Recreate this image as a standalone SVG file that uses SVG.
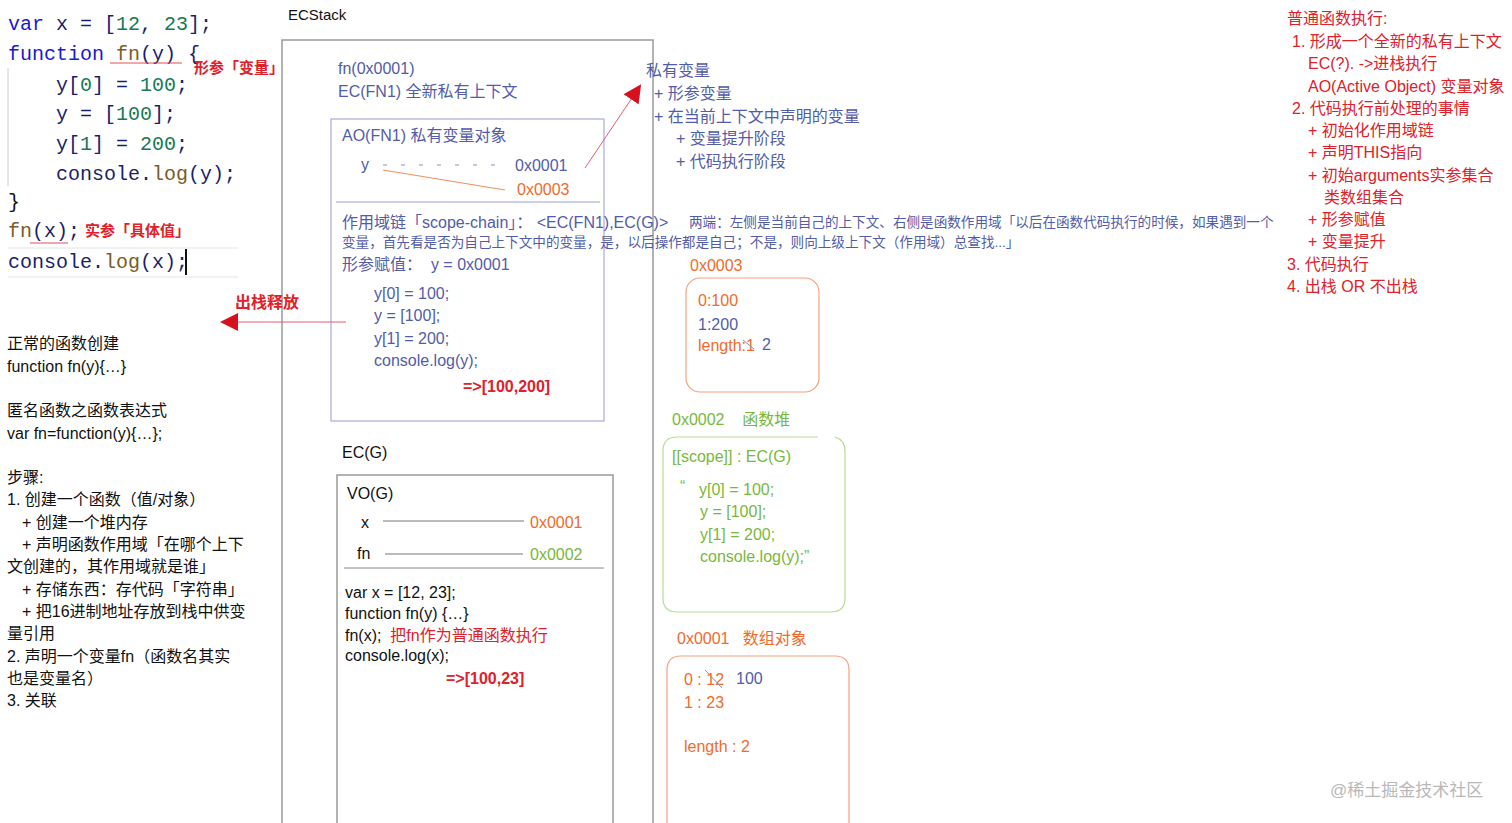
<svg xmlns="http://www.w3.org/2000/svg" width="1512" height="823" viewBox="0 0 1512 823">
<style>
text{font-family:"Liberation Sans","Noto Sans CJK SC",sans-serif;white-space:pre;}
.code{font-family:"Liberation Mono","DejaVu Sans Mono",monospace;font-size:20px;fill:#1b1f6b;}
.kw{fill:#1a1ad0;}
.num{fill:#137a55;}
.fnc{fill:#7a5d28;}
.pun{fill:#111;}
.red{fill:#e0202a;}
.blu{fill:#525ca8;font-size:16px;}
.blk{fill:#111;font-size:16px;}
.org{fill:#f26a2a;font-size:16px;}
.grn{fill:#78b83c;font-size:16px;}
.rt{fill:#e0202a;font-size:16px;}
.sm{font-size:13.6px;}
.box{fill:none;stroke:#9a9a9a;stroke-width:1.5;}
</style>
<defs>
<marker id="ah" markerWidth="18" markerHeight="18" refX="16" refY="9" orient="auto" markerUnits="userSpaceOnUse" viewBox="0 0 18 18">
<path d="M0,0 L18,9 L0,18 z" fill="#d8101e"/>
</marker>
</defs>
<rect width="1512" height="823" fill="#fff"/>

<g id="code">
<line x1="8" y1="68" x2="8" y2="186" stroke="#ccc" stroke-width="1"/>
<line x1="8" y1="248" x2="238" y2="248" stroke="#eee" stroke-width="1.5"/>
<line x1="8" y1="277" x2="238" y2="277" stroke="#eee" stroke-width="1.5"/>
<text class="code" x="8" y="30"><tspan class="kw">var</tspan> x = [<tspan class="num">12</tspan>, <tspan class="num">23</tspan>];</text>
<text class="code" x="8" y="60"><tspan class="kw">function</tspan> <tspan class="fnc">fn</tspan>(y) {</text>
<line x1="110" y1="63" x2="182" y2="63" stroke="#e05050" stroke-width="1.2"/>
<text class="rt" x="194" y="73" style="font-size:15px;font-weight:bold">形参「变量」</text>
<text class="code" x="56" y="91">y[<tspan class="num">0</tspan>] = <tspan class="num">100</tspan>;</text>
<text class="code" x="56" y="120">y = [<tspan class="num">100</tspan>];</text>
<text class="code" x="56" y="150">y[<tspan class="num">1</tspan>] = <tspan class="num">200</tspan>;</text>
<text class="code" x="56" y="180">console.<tspan class="fnc">log</tspan>(y);</text>
<text class="code" x="8" y="208"><tspan class="pun">}</tspan></text>
<text class="code" x="8" y="237"><tspan class="fnc">fn</tspan>(x);</text>
<line x1="30" y1="243" x2="68" y2="243" stroke="#e05050" stroke-width="1.2"/>
<text class="rt" x="85" y="236" style="font-size:15px;font-weight:bold">实参「具体值」</text>
<text class="code" x="8" y="268">console.<tspan class="fnc">log</tspan>(x);</text>
<line x1="186" y1="249" x2="186" y2="275" stroke="#111" stroke-width="2"/>
</g>

<g id="ecstack">
<text class="blk" x="288" y="20" style="font-size:15px">ECStack</text>
<path class="box" d="M282,823 V40 H653 V823"/>
</g>

<g id="ec-fn1">
<text class="blu" x="338" y="74">fn(0x0001)</text>
<text class="blu" x="338" y="97">EC(FN1) 全新私有上下文</text>
<rect x="331" y="119" width="273" height="302" fill="none" stroke="#a7abdc" stroke-width="1.2"/>
<text class="blu" x="342" y="141">AO(FN1) 私有变量对象</text>
<text class="blu" x="361" y="170">y</text>
<line x1="383" y1="165" x2="505" y2="165" stroke="#8a8fc0" stroke-width="1" stroke-dasharray="4,14"/>
<text class="blu" x="515" y="171">0x0001</text>
<line x1="383" y1="170" x2="505" y2="190" stroke="#f29060" stroke-width="1.2"/>
<text class="org" x="517" y="195">0x0003</text>
<line x1="336" y1="202" x2="600" y2="202" stroke="#9aa0d0" stroke-width="1"/>
<text class="blu" x="342" y="228">作用域链「scope-chain」： &lt;EC(FN1),EC(G)&gt;</text>
<text class="blu sm" x="689" y="227">两端：左侧是当前自己的上下文、右侧是函数作用域「以后在函数代码执行的时候，如果遇到一个</text>
<text class="blu sm" x="342" y="247">变量，首先看是否为自己上下文中的变量，是，以后操作都是自己；不是，则向上级上下文（作用域）总查找...」</text>
<text class="blu" x="342" y="270">形参赋值：  y = 0x0001</text>
<text class="blu" x="374" y="299">y[0] = 100;</text>
<text class="blu" x="374" y="321">y = [100];</text>
<text class="blu" x="374" y="344">y[1] = 200;</text>
<text class="blu" x="374" y="366">console.log(y);</text>
<text class="rt" x="463" y="392" style="font-weight:bold">=&gt;[100,200]</text>
</g>

<g id="private-vars">
<text class="blu" x="646" y="76">私有变量</text>
<text class="blu" x="654" y="99">+ 形参变量</text>
<text class="blu" x="654" y="122">+ 在当前上下文中声明的变量</text>
<text class="blu" x="676" y="144">+ 变量提升阶段</text>
<text class="blu" x="676" y="167">+ 代码执行阶段</text>
</g>

<g id="ec-g">
<text class="blk" x="342" y="458">EC(G)</text>
<path class="box" d="M337,823 V475 H613 V823"/>
<text class="blk" x="347" y="499">VO(G)</text>
<text class="blk" x="361" y="528">x</text>
<line x1="383" y1="521" x2="524" y2="521" stroke="#777" stroke-width="1"/>
<text class="org" x="530" y="528">0x0001</text>
<text class="blk" x="357" y="559">fn</text>
<line x1="385" y1="554" x2="523" y2="554" stroke="#777" stroke-width="1"/>
<text class="grn" x="530" y="560">0x0002</text>
<line x1="344" y1="568" x2="604" y2="568" stroke="#888" stroke-width="1"/>
<text class="blk" x="345" y="598">var x = [12, 23];</text>
<text class="blk" x="345" y="619">function fn(y) {…}</text>
<text class="blk" x="345" y="641">fn(x);  <tspan class="red">把fn作为普通函数执行</tspan></text>
<text class="blk" x="345" y="661">console.log(x);</text>
<text class="rt" x="446" y="684" style="font-weight:bold">=&gt;[100,23]</text>
</g>

<g id="heap-0x0003">
<text class="org" x="690" y="271">0x0003</text>
<rect x="686" y="278" width="133" height="114" rx="14" fill="none" stroke="#f5a27c" stroke-width="1.2"/>
<text class="org" x="698" y="306">0:100</text>
<text class="blu" x="698" y="330">1:200</text>
<text class="org" x="698" y="351">length:1</text>
<line x1="743" y1="340" x2="754" y2="349" stroke="#8a8fc0" stroke-width="1"/>
<text class="blu" x="762" y="350">2</text>
</g>

<g id="heap-0x0002">
<text class="grn" x="672" y="425">0x0002    函数堆</text>
<path d="M818,437 H677 Q663,437 663,451 V598 Q663,612 677,612 H831 Q845,612 845,598 V451 Q845,440 835,437" fill="none" stroke="#b8dc94" stroke-width="1.2"/>
<text class="grn" x="672" y="462">[[scope]] : EC(G)</text>
<text class="grn" x="680" y="492">“</text>
<text class="grn" x="699" y="495">y[0] = 100;</text>
<text class="grn" x="700" y="517">y = [100];</text>
<text class="grn" x="700" y="540">y[1] = 200;</text>
<text class="grn" x="700" y="562">console.log(y);”</text>
</g>

<g id="heap-0x0001">
<text class="org" x="677" y="644">0x0001   数组对象</text>
<path d="M667,823 V670 Q667,656 681,656 H835 Q849,656 849,670 V823" fill="none" stroke="#f5a27c" stroke-width="1.2"/>
<text class="org" x="684" y="685">0 : 12</text>
<line x1="705" y1="670" x2="722" y2="688" stroke="#8a8fc0" stroke-width="1"/>
<text class="blu" x="736" y="684">100</text>
<text class="org" x="684" y="708">1 : 23</text>
<text class="org" x="684" y="752">length : 2</text>
</g>

<g id="notes-left">
<text class="blk" x="7" y="349">正常的函数创建</text>
<text class="blk" x="7" y="372">function fn(y){…}</text>
<text class="blk" x="7" y="416">匿名函数之函数表达式</text>
<text class="blk" x="7" y="439">var fn=function(y){…};</text>
<text class="blk" x="7" y="483">步骤:</text>
<text class="blk" x="7" y="505">1. 创建一个函数（值/对象）</text>
<text class="blk" x="22" y="528">+ 创建一个堆内存</text>
<text class="blk" x="22" y="550">+ 声明函数作用域「在哪个上下</text>
<text class="blk" x="7" y="572">文创建的，其作用域就是谁」</text>
<text class="blk" x="22" y="595">+ 存储东西：存代码「字符串」</text>
<text class="blk" x="22" y="617">+ 把16进制地址存放到栈中供变</text>
<text class="blk" x="7" y="639">量引用</text>
<text class="blk" x="7" y="662">2. 声明一个变量fn（函数名其实</text>
<text class="blk" x="7" y="684">也是变量名）</text>
<text class="blk" x="7" y="706">3. 关联</text>
</g>

<g id="notes-right">
<text class="rt" x="1287" y="24">普通函数执行:</text>
<text class="rt" x="1292" y="47">1. 形成一个全新的私有上下文</text>
<text class="rt" x="1308" y="69">EC(?). -&gt;进栈执行</text>
<text class="rt" x="1308" y="92">AO(Active Object) 变量对象</text>
<text class="rt" x="1292" y="114">2. 代码执行前处理的事情</text>
<text class="rt" x="1308" y="136">+ 初始化作用域链</text>
<text class="rt" x="1308" y="158">+ 声明THIS指向</text>
<text class="rt" x="1308" y="181">+ 初始arguments实参集合</text>
<text class="rt" x="1324" y="203">类数组集合</text>
<text class="rt" x="1308" y="225">+ 形参赋值</text>
<text class="rt" x="1308" y="247">+ 变量提升</text>
<text class="rt" x="1287" y="270">3. 代码执行</text>
<text class="rt" x="1287" y="292">4. 出栈 OR 不出栈</text>
</g>

<g id="connectors">
<line x1="585" y1="168" x2="640" y2="86" stroke="#e06070" stroke-width="1" marker-end="url(#ah)"/>
<line x1="346" y1="322" x2="222" y2="322" stroke="#e06070" stroke-width="1" marker-end="url(#ah)"/>
<text class="rt" x="235" y="308" style="font-weight:bold">出栈释放</text>
</g>

<text x="1330" y="796" style="font-size:17px;fill:#b8b8b8">@稀土掘金技术社区</text>
</svg>
